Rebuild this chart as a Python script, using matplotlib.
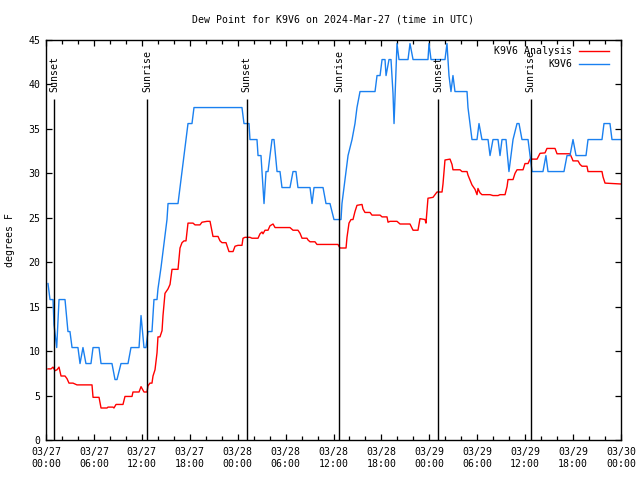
import matplotlib
matplotlib.use("Agg")
import matplotlib.pyplot as plt
from matplotlib.ticker import MultipleLocator

plt.rcParams['font.family'] = ['DejaVu Sans Mono']
FS = 7.15

# Hours since 03/27 00:00 UTC
obs_hours = [0.25, 0.5, 0.88, 1.0, 1.34, 1.63, 2.38, 2.75, 3.0, 3.26, 4.0, 4.26, 4.63, 5.0, 5.63,
             5.89, 6.64, 6.89, 8.26, 8.64, 8.89, 9.39, 10.27, 10.64, 11.65, 11.9, 12.08, 12.27,
             12.52, 12.77, 13.27, 13.52, 13.9, 14.02, 14.4, 14.65, 14.9, 15.15, 15.28, 16.53,
             16.78, 17.03, 17.28, 17.53, 17.78, 18.28, 18.53, 24.54, 24.79, 25.04, 25.42, 25.54,
             26.42, 26.55, 26.92, 27.05, 27.3, 27.55, 27.8, 28.05, 28.3, 28.55, 28.93, 29.3,
             29.55, 30.55, 30.93, 31.3, 31.55, 33.06, 33.31, 33.56, 34.69, 35.06, 35.56, 36.06,
             36.94, 37.06, 37.82, 38.32, 38.69, 38.94, 39.32, 39.57, 41.2, 41.45, 41.83, 42.08,
             42.45, 42.58, 42.95, 43.2, 43.45, 43.58, 43.95, 44.2, 44.95, 45.33, 45.58, 45.96,
             47.83, 47.96, 48.21, 49.96, 50.21, 50.46, 50.71, 50.96, 51.21, 52.72, 52.84, 53.09,
             53.34, 53.97, 54.22, 54.59, 55.35, 55.6, 55.97, 56.6, 56.85, 57.1, 57.6, 57.97,
             58.48, 58.98, 59.23, 59.6, 60.36, 60.61, 60.86, 62.23, 62.6, 62.86, 64.86, 65.24,
             65.61, 65.99, 66.37, 66.74, 67.62, 67.87, 69.62, 69.87, 70.62, 70.87, 72.0]
obs_dewpt = [17.6, 15.8, 15.8, 13.0, 10.4, 15.8, 15.8, 12.2, 12.2, 10.4, 10.4, 8.6, 10.4, 8.6, 8.6,
             10.4, 10.4, 8.6, 8.6, 6.8, 6.8, 8.6, 8.6, 10.4, 10.4, 14.0, 12.2, 10.4,
             10.4, 12.2, 12.2, 15.8, 15.8, 17.0, 19.4, 21.2, 23.0, 24.8, 26.6, 26.6,
             28.4, 30.2, 32.0, 33.8, 35.6, 35.6, 37.4, 37.4, 35.6, 35.6, 35.6, 33.8,
             33.8, 32.0, 32.0, 30.2, 26.6, 30.2, 30.2, 32.0, 33.8, 33.8, 30.2, 30.2,
             28.4, 28.4, 30.2, 30.2, 28.4, 28.4, 26.6, 28.4, 28.4, 26.6, 26.6, 24.8,
             24.8, 26.6, 32.0, 33.8, 35.6, 37.4, 39.2, 39.2, 39.2, 41.0, 41.0, 42.8,
             42.8, 41.0, 42.8, 42.8, 39.0, 35.6, 44.6, 42.8, 42.8, 42.8, 44.6, 42.8,
             42.8, 44.6, 42.8, 42.8, 44.6, 41.0, 39.2, 41.0, 39.2, 39.2, 37.4, 35.6,
             33.8, 33.8, 35.6, 33.8, 33.8, 32.0, 33.8, 33.8, 32.0, 33.8, 33.8, 30.2,
             33.8, 35.6, 35.6, 33.8, 33.8, 32.0, 30.2, 30.2, 32.0, 30.2, 30.2, 32.0,
             32.0, 33.8, 32.0, 32.0, 32.0, 33.8, 33.8, 35.6, 35.6, 33.8, 33.8]

ana_hours = [0.25, 0.63, 0.88, 1.13, 1.38, 1.63, 1.88, 2.38, 2.63, 2.88, 3.38, 3.88, 5.76, 5.89,
             6.64, 6.89, 7.64, 7.76, 8.39, 8.51, 8.77, 9.64, 9.89, 10.77, 10.89, 11.65, 11.9,
             12.15, 12.27, 12.65, 12.77, 13.02, 13.27, 13.4, 13.65, 13.9, 14.02, 14.27, 14.53,
             14.65, 14.9, 15.28, 15.53, 15.78, 16.53, 16.78, 17.03, 17.28, 17.53, 17.78, 18.41,
             18.66, 19.28, 19.53, 20.16, 20.54, 20.91, 21.54, 21.79, 22.04, 22.54, 22.91, 23.42,
             23.67, 24.04, 24.54, 24.67, 24.92, 25.54, 25.79, 26.55, 26.8, 27.05, 27.17, 27.42,
             27.8, 28.05, 28.43, 28.68, 30.55, 30.93, 31.55, 31.81, 32.06, 32.68, 32.81, 33.06,
             33.68, 33.93, 36.56, 36.81, 37.57, 37.69, 37.94, 38.19, 38.44, 38.69, 38.94, 39.57,
             39.69, 39.94, 40.57, 40.82, 41.83, 42.08, 42.7, 42.83, 43.08, 43.95, 44.33, 45.58,
             45.96, 46.58, 46.83, 47.46, 47.58, 47.83, 48.46, 48.71, 48.96, 49.59, 49.71, 49.96,
             50.59, 50.84, 50.96, 51.84, 52.09, 52.72, 52.84, 53.34, 53.72, 53.97, 54.09, 54.35,
             54.59, 55.6, 55.97, 56.6, 56.85, 57.48, 57.73, 57.85, 58.48, 58.73, 58.98, 59.73,
             59.98, 60.36, 60.61, 61.49, 61.86, 62.48, 62.73, 63.74, 63.99, 65.61, 65.86, 65.99,
             66.62, 66.87, 67.12, 67.74, 67.87, 69.62, 69.75, 70.0, 72.0]
ana_dewpt = [8.0, 8.0, 8.2, 7.8, 7.9, 8.2, 7.2, 7.2, 6.9, 6.4, 6.4, 6.2, 6.2, 4.8,
             4.8, 3.6, 3.6, 3.7, 3.7, 3.6, 4.0, 4.0, 4.9, 4.9, 5.4, 5.4, 6.0,
             5.6, 5.4, 5.4, 6.1, 6.4, 6.4, 7.2, 7.9, 9.8, 11.6, 11.6, 12.3,
             14.0, 16.5, 17.0, 17.5, 19.2, 19.2, 21.6, 22.2, 22.4, 22.4, 24.4, 24.4,
             24.2, 24.2, 24.5, 24.6, 24.6, 22.9, 22.9, 22.4, 22.2, 22.2, 21.2, 21.2,
             21.8, 21.9, 21.9, 22.7, 22.8, 22.8, 22.7, 22.7, 23.2, 23.4, 23.2, 23.6,
             23.6, 24.1, 24.3, 23.9, 23.9, 23.6, 23.6, 23.25, 22.7, 22.7, 22.5, 22.3,
             22.3, 22.0, 22.0, 21.6, 21.6, 22.8, 24.4, 24.8, 24.8, 25.7, 26.4, 26.5,
             26.0, 25.6, 25.6, 25.3, 25.3, 25.1, 25.1, 24.5, 24.6, 24.6, 24.3, 24.3,
             23.6, 23.6, 24.9, 24.8, 24.4, 27.2, 27.3, 27.6, 27.9, 27.9, 28.8, 31.5,
             31.6, 31.0, 30.4, 30.4, 30.2, 30.2, 29.8, 28.7, 28.2, 27.6, 28.3, 27.8,
             27.6, 27.6, 27.5, 27.5, 27.6, 27.6, 28.5, 29.3, 29.3, 30.0, 30.4, 30.4,
             31.1, 31.1, 31.6, 31.6, 32.25, 32.3, 32.8, 32.8, 32.2, 32.2, 31.7, 31.4,
             31.4, 31.0, 30.8, 30.8, 30.2, 30.2, 29.6, 28.9, 28.8]

sun_hours = [1.05, 12.7, 25.13, 36.73, 49.12, 60.7]
sun_labels = ['Sunset', 'Sunrise', 'Sunset', 'Sunrise', 'Sunset', 'Sunrise']

xtick_hours = list(range(0, 73, 6))
xtick_labels = ['03/27\n00:00', '03/27\n06:00', '03/27\n12:00', '03/27\n18:00',
                '03/28\n00:00', '03/28\n06:00', '03/28\n12:00', '03/28\n18:00',
                '03/29\n00:00', '03/29\n06:00', '03/29\n12:00', '03/29\n18:00',
                '03/30\n00:00']

fig = plt.figure(figsize=(6.4, 4.8), dpi=100)
ax = fig.add_axes([46/640, 40/480, 575/640, 400/480])

ax.plot(ana_hours, ana_dewpt, color='#ff0000', lw=1.0, label='K9V6 Analysis')
ax.plot(obs_hours, obs_dewpt, color='#1a80f0', lw=1.0, label='K9V6')

for h, lab in zip(sun_hours, sun_labels):
    ax.vlines(h, 0, 38.4, color='black', lw=1.0)
    ax.text(h, 39.1, lab, rotation=90, ha='center', va='bottom', fontsize=FS)

ax.set_xlim(0, 72)
ax.set_ylim(0, 45)
ax.set_xticks(xtick_hours)
ax.set_xticklabels(xtick_labels, fontsize=FS, linespacing=1.3)
ax.xaxis.set_minor_locator(MultipleLocator(2))
ax.yaxis.set_major_locator(MultipleLocator(5))
ax.tick_params(axis='both', which='both', direction='in', top=True, right=True, width=0.9)
ax.tick_params(axis='both', which='major', length=4.5, labelsize=FS, pad=5)
ax.tick_params(axis='both', which='minor', length=3)
ax.tick_params(axis='y', pad=4)
for s in ax.spines.values():
    s.set_linewidth(1.0)

ax.set_ylabel('degrees F', fontsize=FS, labelpad=10)
fig.text(333/640, 1 - 20/480, 'Dew Point for K9V6 on 2024-Mar-27 (time in UTC)',
         ha='center', va='center', fontsize=FS)

leg = ax.legend(loc='upper right', bbox_to_anchor=(0.979, 0.985), frameon=False,
                markerfirst=False, fontsize=FS, handlelength=3.0, handletextpad=0.7,
                borderpad=0, labelspacing=0.3, borderaxespad=0)

fig.savefig('out.png', dpi=100)
